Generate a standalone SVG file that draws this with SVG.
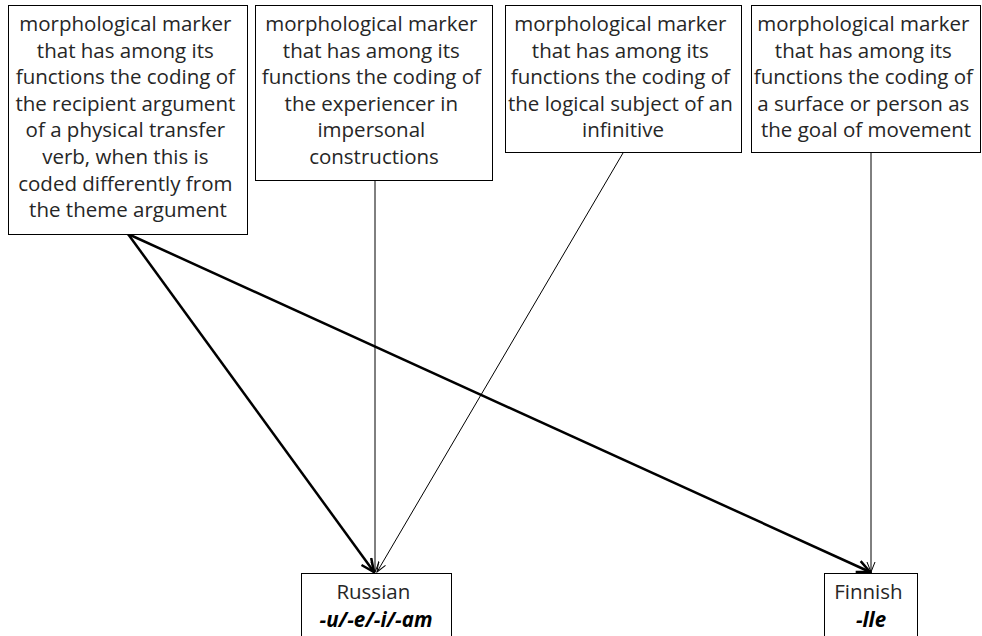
<svg xmlns="http://www.w3.org/2000/svg" width="982" height="636" viewBox="0 0 982 636">
  <style>
    .box { fill: #ffffff; stroke: #000000; stroke-width: 1; }
    .lbl { font-family: "Open Sans", "Liberation Sans", sans-serif; font-size: 20.5px; fill: #262626; text-anchor: middle; }
    .form { font-weight: bold; font-style: italic; fill: #000000; }
    .thin { stroke: #000000; stroke-width: 1; fill: none; }
    .thick { stroke: #000000; stroke-width: 2.5; fill: none; }
  </style>
  <defs>
    <marker id="open-thick" viewBox="0 0 16 14" refX="14" refY="7" markerWidth="16" markerHeight="14" markerUnits="userSpaceOnUse" orient="auto">
      <path d="M1,1 L14,7 L1,13" fill="none" stroke="#000000" stroke-width="2.5"/>
    </marker>
    <marker id="open-thin" viewBox="0 0 12 10" refX="11" refY="5" markerWidth="12" markerHeight="10" markerUnits="userSpaceOnUse" orient="auto">
      <path d="M1,1 L11,5 L1,9" fill="none" stroke="#000000" stroke-width="1"/>
    </marker>
  </defs>

  <!-- connectors -->
  <g id="connectors">
    <line class="thin" x1="375" y1="181" x2="375" y2="572" marker-end="url(#open-thin)"/>
    <line class="thin" x1="623" y1="153" x2="377" y2="572" marker-end="url(#open-thin)"/>
    <line class="thin" x1="871" y1="153" x2="871" y2="572" marker-end="url(#open-thin)"/>
    <line class="thick" x1="128" y1="234" x2="374" y2="572" marker-end="url(#open-thick)"/>
    <line class="thick" x1="128" y1="234" x2="870" y2="572" marker-end="url(#open-thick)"/>
  </g>

  <!-- function nodes -->
  <g id="recipient">
    <rect class="box" x="8.5" y="5.5" width="239" height="229"/>
    <text class="lbl">
      <tspan x="128" y="31">morphological marker</tspan>
      <tspan x="128" y="57.6">that has among its</tspan>
      <tspan x="128" y="84.2">functions the coding of</tspan>
      <tspan x="128" y="110.8">the recipient argument</tspan>
      <tspan x="128" y="137.4">of a physical transfer</tspan>
      <tspan x="128" y="164">verb, when this is</tspan>
      <tspan x="128" y="190.6">coded differently from</tspan>
      <tspan x="128" y="217.2">the theme argument</tspan>
    </text>
  </g>

  <g id="experiencer">
    <rect class="box" x="255.5" y="5.5" width="237" height="175"/>
    <text class="lbl">
      <tspan x="374" y="31">morphological marker</tspan>
      <tspan x="374" y="57.6">that has among its</tspan>
      <tspan x="374" y="84.2">functions the coding of</tspan>
      <tspan x="374" y="110.8">the experiencer in</tspan>
      <tspan x="374" y="137.4">impersonal</tspan>
      <tspan x="374" y="164">constructions</tspan>
    </text>
  </g>

  <g id="infinitive-subject">
    <rect class="box" x="505.5" y="5.5" width="236" height="147"/>
    <text class="lbl">
      <tspan x="623" y="31">morphological marker</tspan>
      <tspan x="623" y="57.6">that has among its</tspan>
      <tspan x="623" y="84.2">functions the coding of</tspan>
      <tspan x="623" y="110.8">the logical subject of an</tspan>
      <tspan x="623" y="137.4">infinitive</tspan>
    </text>
  </g>

  <g id="goal">
    <rect class="box" x="751.5" y="5.5" width="229" height="147"/>
    <text class="lbl">
      <tspan x="866" y="31">morphological marker</tspan>
      <tspan x="866" y="57.6">that has among its</tspan>
      <tspan x="866" y="84.2">functions the coding of</tspan>
      <tspan x="866" y="110.8">a surface or person as</tspan>
      <tspan x="866" y="137.4">the goal of movement</tspan>
    </text>
  </g>

  <!-- language nodes -->
  <g id="russian">
    <rect class="box" x="301.5" y="573.5" width="150" height="80"/>
    <text class="lbl">
      <tspan x="376" y="599">Russian</tspan>
      <tspan class="form" x="376" y="627">-u/-e/-i/-am</tspan>
    </text>
  </g>

  <g id="finnish">
    <rect class="box" x="824.5" y="573.5" width="93" height="80"/>
    <text class="lbl">
      <tspan x="871" y="599">Finnish</tspan>
      <tspan class="form" x="871" y="627">-lle</tspan>
    </text>
  </g>
</svg>
